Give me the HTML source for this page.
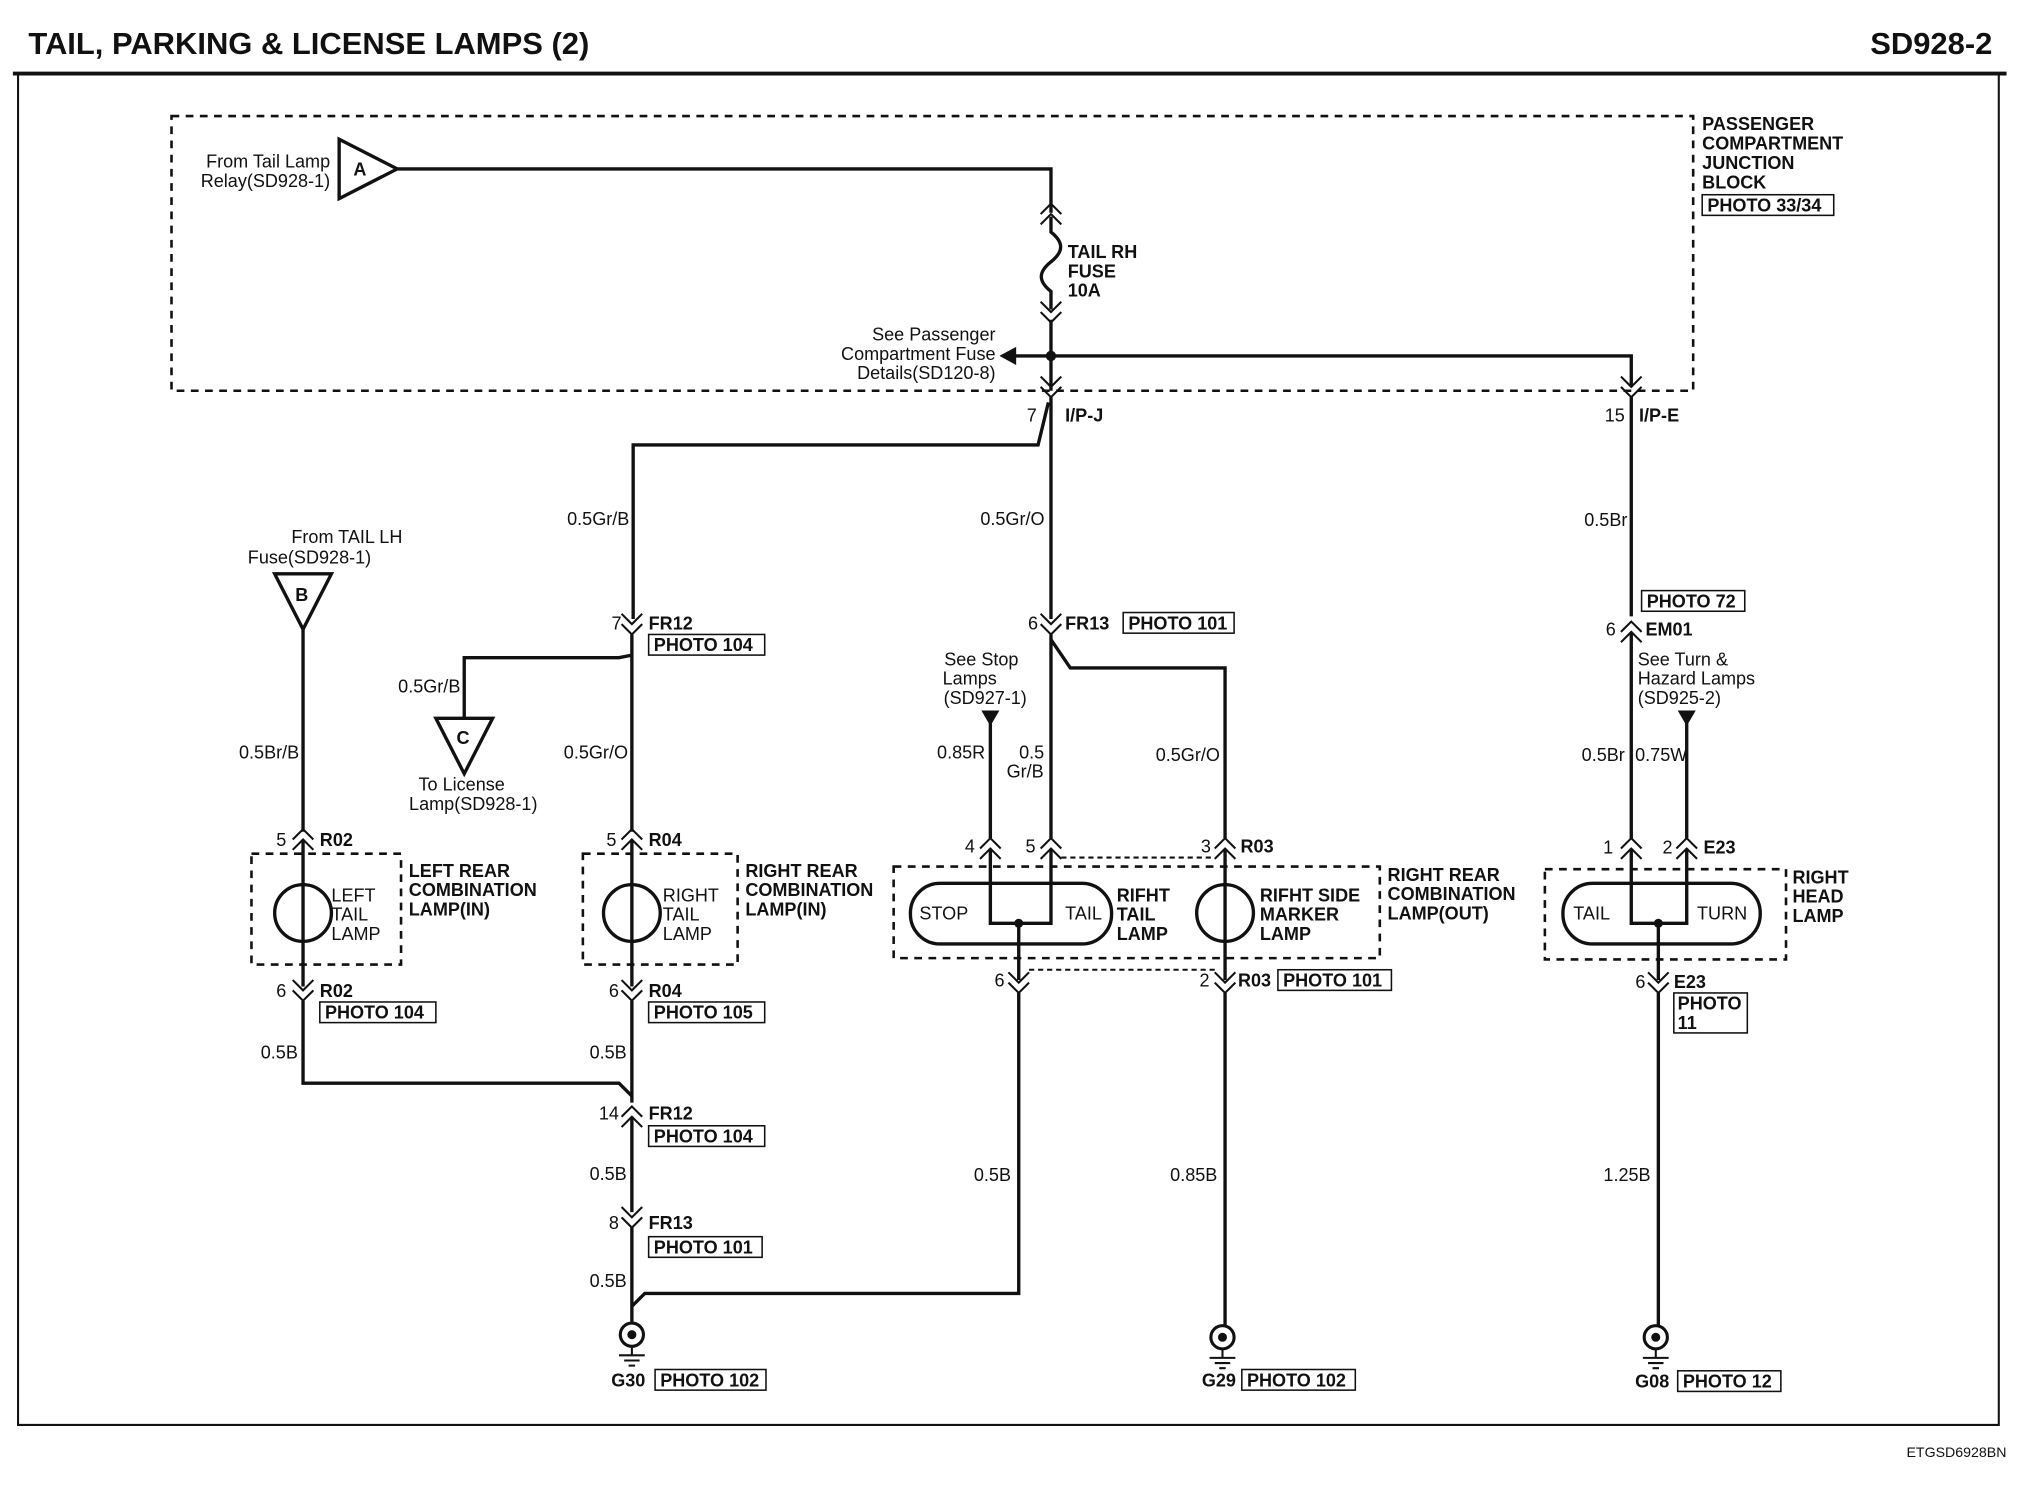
<!DOCTYPE html>
<html><head><meta charset="utf-8"><style>
html,body{margin:0;padding:0;background:#fff}
svg{display:block}
text{font-family:"Liberation Sans",Arial,sans-serif;font-size:14px;fill:#111}
.b{font-weight:bold}
.w{fill:none;stroke:#111;stroke-width:2.6}
.t{fill:none;stroke:#111;stroke-width:1.6}
.d{fill:none;stroke:#111;stroke-width:2;stroke-dasharray:6,5}
.bx{fill:none;stroke:#111;stroke-width:1.2}
</style></head><body>
<svg width="2022" height="1504" viewBox="0 0 1568 1166.3" preserveAspectRatio="none" xmlns="http://www.w3.org/2000/svg">
<defs>
<g id="cd"><path class="t" d="M-8,-14 L0,-6 L8,-14 M-8,-6 L0,2 L8,-6"/></g>
<g id="cu"><path class="t" d="M-8,6 L0,-2 L8,6 M-8,14 L0,6 L8,14"/></g>
<g id="gnd"><circle cx="0" cy="0" r="9" fill="none" stroke="#111" stroke-width="2.4"/><circle cx="0" cy="0" r="3.5" fill="#111"/><path class="t" d="M0,9 V16 M-10,16 H10 M-6,20 H6 M-2.5,24 H2.5"/></g>
</defs>
<text x="22" y="42" class="b" style="font-size:24px">TAIL, PARKING &amp; LICENSE LAMPS (2)</text>
<text x="1545" y="42" class="b" style="font-size:24px" text-anchor="end">SD928-2</text>
<path d="M10,57 H1556" stroke="#111" stroke-width="3"/>
<path d="M14,57 V1105 H1550 V57" class="t"/>
<text x="1556" y="1130" text-anchor="end" style="font-size:11px">ETGSD6928BN</text>
<rect x="133" y="90" width="1180" height="213" class="d"/>
<text x="1320" y="101" class="b">PASSENGER</text>
<text x="1320" y="116" class="b">COMPARTMENT</text>
<text x="1320" y="131" class="b">JUNCTION</text>
<text x="1320" y="146" class="b">BLOCK</text>
<rect x="1320" y="151" width="102" height="16" class="bx"/><text x="1324" y="164" class="b">PHOTO 33/34</text>
<path d="M263,108 L263,154 L308,131 Z" class="w"/><text x="274" y="136" class="b">A</text>
<text x="256" y="130" text-anchor="end">From Tail Lamp</text><text x="256" y="145" text-anchor="end">Relay(SD928-1)</text>
<path class="w" d="M308,131 H815 V165"/>
<use href="#cu" x="815" y="160"/>
<path class="w" d="M815,168 V180 C825,188 825,195 815,203 C805,211 805,218 815,226 V240"/>
<use href="#cd" x="815" y="248"/>
<text x="828" y="200" class="b">TAIL RH</text><text x="828" y="215" class="b">FUSE</text><text x="828" y="230" class="b">10A</text>
<path class="w" d="M815,248 V303 M787,276 H1265 V300"/>
<circle cx="815" cy="276" r="4" fill="#111"/>
<path d="M775,276 L788,269 L788,283 Z" fill="#111"/>
<text x="772" y="264" text-anchor="end">See Passenger</text><text x="772" y="279" text-anchor="end">Compartment Fuse</text><text x="772" y="294" text-anchor="end">Details(SD120-8)</text>
<use href="#cd" x="815" y="306"/><use href="#cd" x="1265" y="306"/>
<text x="804" y="327" text-anchor="end">7</text><text x="826" y="327" class="b">I/P-J</text>
<text x="1260" y="327" text-anchor="end">15</text><text x="1271" y="327" class="b">I/P-E</text>
<path class="w" d="M815,308 V480 M813,312 L805,345 H491 V480"/>
<text x="488" y="407" text-anchor="end">0.5Gr/B</text>
<text x="810" y="407" text-anchor="end">0.5Gr/O</text>
<path class="w" d="M1265,308 V478"/>
<text x="1262" y="408" text-anchor="end">0.5Br</text>
<text x="269" y="421" text-anchor="middle">From TAIL LH</text><text x="240" y="437" text-anchor="middle">Fuse(SD928-1)</text>
<path d="M213,445 L257,445 L235,488 Z" class="w"/><text x="229" y="466" class="b">B</text>
<path class="w" d="M235,488 V645"/>
<text x="232" y="588" text-anchor="end">0.5Br/B</text>
<use href="#cd" x="490" y="490"/><text x="482" y="488" text-anchor="end">7</text><text x="503" y="488" class="b">FR12</text>
<rect x="503" y="492" width="90" height="16" class="bx"/><text x="507" y="505" class="b">PHOTO 104</text>
<path class="w" d="M490,492 V645 M490,508 L480,510 H360 V557"/>
<text x="357" y="537" text-anchor="end">0.5Gr/B</text>
<path d="M338,557 L382,557 L360,600 Z" class="w"/><text x="354" y="577" class="b">C</text>
<text x="358" y="613" text-anchor="middle">To License</text><text x="367" y="628" text-anchor="middle">Lamp(SD928-1)</text>
<text x="487" y="588" text-anchor="end">0.5Gr/O</text>
<use href="#cd" x="815" y="490"/><text x="805" y="488" text-anchor="end">6</text><text x="826" y="488" class="b">FR13</text>
<rect x="871" y="475" width="86" height="16" class="bx"/><text x="875" y="488" class="b">PHOTO 101</text>
<path class="w" d="M815,492 V650 M815,496 L830,518 H950 V650"/>
<text x="761" y="516" text-anchor="middle">See Stop</text><text x="752" y="531" text-anchor="middle">Lamps</text><text x="764" y="546" text-anchor="middle">(SD927-1)</text>
<path d="M761,551 L775,551 L768,563 Z" fill="#111"/><path class="w" d="M768,560 V650"/>
<text x="764" y="588" text-anchor="end">0.85R</text>
<text x="800" y="588" text-anchor="middle">0.5</text><text x="795" y="603" text-anchor="middle">Gr/B</text>
<text x="946" y="590" text-anchor="end">0.5Gr/O</text>
<rect x="1273" y="458" width="80" height="16" class="bx"/><text x="1277" y="471" class="b">PHOTO 72</text>
<use href="#cu" x="1265" y="484"/><text x="1253" y="493" text-anchor="end">6</text><text x="1276" y="493" class="b">EM01</text>
<path class="w" d="M1265,490 V650"/>
<text x="1270" y="516">See Turn &amp;</text><text x="1270" y="531">Hazard Lamps</text><text x="1270" y="546">(SD925-2)</text>
<path d="M1301,551 L1315,551 L1308,563 Z" fill="#111"/><path class="w" d="M1308,560 V650"/>
<text x="1260" y="590" text-anchor="end">0.5Br</text><text x="1268" y="590">0.75W</text>
<!-- left rear -->
<use href="#cu" x="235" y="645"/><text x="222" y="656" text-anchor="end">5</text><text x="248" y="656" class="b">R02</text>
<rect x="195" y="662" width="116" height="86" class="d"/>
<circle cx="235" cy="708" r="22" class="w"/>
<path class="w" d="M235,651 V765"/>
<text x="257" y="699">LEFT</text><text x="257" y="714">TAIL</text><text x="257" y="729">LAMP</text>
<text x="317" y="680" class="b">LEFT REAR</text><text x="317" y="695" class="b">COMBINATION</text><text x="317" y="710" class="b">LAMP(IN)</text>
<use href="#cd" x="235" y="774"/><text x="222" y="773" text-anchor="end">6</text><text x="248" y="773" class="b">R02</text>
<rect x="248" y="777" width="90" height="16" class="bx"/><text x="252" y="790" class="b">PHOTO 104</text>
<path class="w" d="M235,776 V840 H480 L490,850"/>
<text x="231" y="821" text-anchor="end">0.5B</text>
<!-- right rear in -->
<use href="#cu" x="490" y="645"/><text x="478" y="656" text-anchor="end">5</text><text x="503" y="656" class="b">R04</text>
<rect x="452" y="662" width="120" height="86" class="d"/>
<circle cx="490" cy="708" r="22" class="w"/>
<path class="w" d="M490,651 V765"/>
<text x="514" y="699">RIGHT</text><text x="514" y="714">TAIL</text><text x="514" y="729">LAMP</text>
<text x="578" y="680" class="b">RIGHT REAR</text><text x="578" y="695" class="b">COMBINATION</text><text x="578" y="710" class="b">LAMP(IN)</text>
<use href="#cd" x="490" y="774"/><text x="480" y="773" text-anchor="end">6</text><text x="503" y="773" class="b">R04</text>
<rect x="503" y="777" width="90" height="16" class="bx"/><text x="507" y="790" class="b">PHOTO 105</text>
<path class="w" d="M490,776 V855"/>
<text x="486" y="821" text-anchor="end">0.5B</text>
<use href="#cu" x="490" y="860"/><text x="480" y="868" text-anchor="end">14</text><text x="503" y="868" class="b">FR12</text>
<rect x="503" y="873" width="90" height="16" class="bx"/><text x="507" y="886" class="b">PHOTO 104</text>
<path class="w" d="M490,866 V940"/>
<text x="486" y="915" text-anchor="end">0.5B</text>
<use href="#cd" x="490" y="950"/><text x="480" y="953" text-anchor="end">8</text><text x="503" y="953" class="b">FR13</text>
<rect x="503" y="959" width="88" height="16" class="bx"/><text x="507" y="972" class="b">PHOTO 101</text>
<path class="w" d="M490,952 V1025"/>
<text x="486" y="998" text-anchor="end">0.5B</text>
<use href="#gnd" x="490" y="1035"/>
<text x="474" y="1075" class="b">G30</text>
<rect x="508" y="1062" width="86" height="16" class="bx"/><text x="512" y="1075" class="b">PHOTO 102</text>
<!-- right rear out -->
<use href="#cu" x="768" y="652"/><text x="756" y="661" text-anchor="end">4</text>
<use href="#cu" x="815" y="652"/><text x="803" y="661" text-anchor="end">5</text>
<use href="#cu" x="950" y="652"/><text x="939" y="661" text-anchor="end">3</text><text x="962" y="661" class="b">R03</text>
<path d="M823,665 H942" class="t" stroke-dasharray="4,3"/>
<rect x="693" y="672" width="377" height="71" class="d"/>
<rect x="706" y="685" width="156" height="47" rx="23" class="w"/>
<path class="w" d="M768,658 V716 H815 V658 M790,716 V760"/>
<circle cx="790" cy="716" r="3.5" fill="#111"/>
<text x="713" y="713">STOP</text><text x="826" y="713">TAIL</text>
<text x="866" y="699" class="b">RIFHT</text><text x="866" y="714" class="b">TAIL</text><text x="866" y="729" class="b">LAMP</text>
<circle cx="950" cy="708" r="22" class="w"/><path class="w" d="M950,658 V760"/>
<text x="977" y="699" class="b">RIFHT SIDE</text><text x="977" y="714" class="b">MARKER</text><text x="977" y="729" class="b">LAMP</text>
<text x="1076" y="683" class="b">RIGHT REAR</text><text x="1076" y="698" class="b">COMBINATION</text><text x="1076" y="713" class="b">LAMP(OUT)</text>
<use href="#cd" x="790" y="768"/><text x="779" y="765" text-anchor="end">6</text>
<use href="#cd" x="950" y="768"/><text x="938" y="765" text-anchor="end">2</text><text x="960" y="765" class="b">R03</text>
<rect x="991" y="752" width="88" height="16" class="bx"/><text x="995" y="765" class="b">PHOTO 101</text>
<path d="M798,752 H942" class="t" stroke-dasharray="4,3"/>
<path class="w" d="M790,770 V1003 H500 L490,1013 M950,770 V1028"/>
<text x="784" y="916" text-anchor="end">0.5B</text>
<text x="944" y="916" text-anchor="end">0.85B</text>
<use href="#gnd" x="948" y="1037"/>
<text x="932" y="1075" class="b">G29</text>
<rect x="963" y="1062" width="88" height="16" class="bx"/><text x="967" y="1075" class="b">PHOTO 102</text>
<!-- head lamp -->
<use href="#cu" x="1265" y="652"/><text x="1251" y="662" text-anchor="end">1</text>
<use href="#cu" x="1308" y="652"/><text x="1297" y="662" text-anchor="end">2</text><text x="1321" y="662" class="b">E23</text>
<rect x="1198" y="674" width="187" height="70" class="d"/>
<rect x="1212" y="685" width="153" height="47" rx="23" class="w"/>
<path class="w" d="M1265,658 V716 H1308 V658 M1286,716 V760"/>
<circle cx="1286" cy="716" r="3.5" fill="#111"/>
<text x="1220" y="713">TAIL</text><text x="1316" y="713">TURN</text>
<text x="1390" y="685" class="b">RIGHT</text><text x="1390" y="700" class="b">HEAD</text><text x="1390" y="715" class="b">LAMP</text>
<use href="#cd" x="1286" y="768"/><text x="1276" y="766" text-anchor="end">6</text><text x="1298" y="766" class="b">E23</text>
<rect x="1298" y="770" width="57" height="31" class="bx"/><text x="1301" y="783" class="b">PHOTO</text><text x="1301" y="798" class="b">11</text>
<path class="w" d="M1286,770 V1028"/>
<text x="1280" y="916" text-anchor="end">1.25B</text>
<use href="#gnd" x="1284" y="1037"/>
<text x="1268" y="1076" class="b">G08</text>
<rect x="1301" y="1063" width="80" height="16" class="bx"/><text x="1305" y="1076" class="b">PHOTO 12</text>
</svg>
</body></html>
